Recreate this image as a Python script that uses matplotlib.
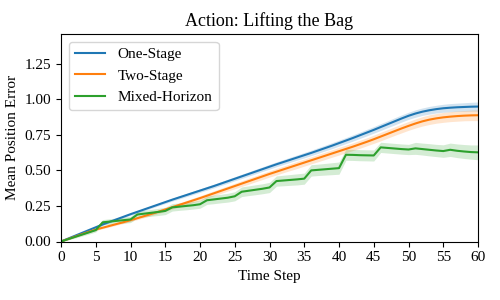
"""
plot.py — mean position error over time, one/two-stage vs mixed-horizon
"""

import numpy as np
import matplotlib
matplotlib.use("Agg")
import matplotlib.pyplot as plt

plt.rcParams["font.family"] = ["Liberation Serif", "DejaVu Serif"]

TITLE = "Action: Lifting the Bag"
steps = list(range(61))

one_stage = [
    0.000, 0.020, 0.040, 0.060, 0.080, 0.100, 0.120, 0.138, 0.156, 0.174,
    0.192, 0.209, 0.226, 0.243, 0.260, 0.277, 0.294, 0.310, 0.326, 0.342,
    0.358, 0.374, 0.390, 0.407, 0.424, 0.441, 0.458, 0.475, 0.492, 0.509,
    0.526, 0.543, 0.559, 0.575, 0.591, 0.607, 0.623, 0.640, 0.657, 0.674,
    0.692, 0.710, 0.728, 0.747, 0.766, 0.785, 0.805, 0.825, 0.845, 0.865,
    0.884, 0.900, 0.913, 0.923, 0.931, 0.937, 0.941, 0.944, 0.946, 0.948,
    0.949,
]
one_stage_std = [
    0.000, 0.003, 0.004, 0.004, 0.005, 0.005, 0.006, 0.006, 0.007, 0.007,
    0.008, 0.008, 0.009, 0.009, 0.009, 0.010, 0.010, 0.011, 0.011, 0.012,
    0.012, 0.013, 0.013, 0.013, 0.014, 0.014, 0.015, 0.015, 0.016, 0.016,
    0.017, 0.017, 0.017, 0.018, 0.018, 0.019, 0.019, 0.020, 0.020, 0.021,
    0.021, 0.021, 0.022, 0.022, 0.023, 0.023, 0.024, 0.024, 0.025, 0.025,
    0.025, 0.026, 0.026, 0.027, 0.027, 0.028, 0.029, 0.029, 0.030, 0.031,
    0.032,
]

two_stage = [
    0.000, 0.017, 0.034, 0.051, 0.068, 0.084, 0.097, 0.110, 0.123, 0.136,
    0.150, 0.164, 0.179, 0.194, 0.209, 0.225, 0.241, 0.257, 0.273, 0.289,
    0.305, 0.322, 0.339, 0.356, 0.373, 0.390, 0.407, 0.424, 0.441, 0.458,
    0.475, 0.491, 0.507, 0.523, 0.539, 0.555, 0.571, 0.587, 0.603, 0.619,
    0.635, 0.651, 0.667, 0.684, 0.701, 0.719, 0.738, 0.757, 0.776, 0.795,
    0.813, 0.830, 0.845, 0.857, 0.866, 0.873, 0.878, 0.882, 0.885, 0.887,
    0.888,
]
two_stage_std = [
    0.000, 0.003, 0.004, 0.005, 0.005, 0.006, 0.007, 0.008, 0.008, 0.009,
    0.009, 0.010, 0.011, 0.012, 0.012, 0.013, 0.013, 0.014, 0.015, 0.016,
    0.016, 0.017, 0.017, 0.018, 0.018, 0.019, 0.020, 0.021, 0.021, 0.022,
    0.022, 0.023, 0.023, 0.024, 0.025, 0.025, 0.025, 0.026, 0.026, 0.026,
    0.027, 0.027, 0.027, 0.028, 0.028, 0.029, 0.030, 0.030, 0.030, 0.031,
    0.031, 0.032, 0.033, 0.034, 0.034, 0.035, 0.035, 0.036, 0.036, 0.037,
    0.038,
]

mixed_horizon = [
    0.000, 0.016, 0.032, 0.048, 0.064, 0.080, 0.135, 0.140, 0.145, 0.150,
    0.155, 0.190, 0.196, 0.202, 0.208, 0.215, 0.240, 0.245, 0.250, 0.255,
    0.262, 0.290, 0.296, 0.302, 0.308, 0.318, 0.350, 0.357, 0.364, 0.371,
    0.380, 0.425, 0.429, 0.433, 0.437, 0.442, 0.500, 0.504, 0.508, 0.512,
    0.516, 0.610, 0.609, 0.607, 0.606, 0.605, 0.662, 0.658, 0.654, 0.650,
    0.647, 0.655, 0.650, 0.645, 0.640, 0.636, 0.645, 0.638, 0.633, 0.629,
    0.627,
]
mixed_horizon_std = [
    0.000, 0.005, 0.008, 0.010, 0.012, 0.013, 0.019, 0.020, 0.020, 0.021,
    0.022, 0.023, 0.023, 0.024, 0.025, 0.026, 0.026, 0.026, 0.027, 0.027,
    0.028, 0.029, 0.030, 0.030, 0.031, 0.032, 0.034, 0.034, 0.035, 0.035,
    0.036, 0.036, 0.037, 0.038, 0.039, 0.039, 0.040, 0.040, 0.041, 0.042,
    0.043, 0.039, 0.039, 0.039, 0.039, 0.039, 0.036, 0.036, 0.036, 0.036,
    0.036, 0.042, 0.042, 0.043, 0.043, 0.044, 0.047, 0.048, 0.049, 0.050,
    0.052,
]

series = [
    ("One-Stage", one_stage, one_stage_std, "#1f77b4"),
    ("Two-Stage", two_stage, two_stage_std, "#ff7f0e"),
    ("Mixed-Horizon", mixed_horizon, mixed_horizon_std, "#2ca02c"),
]

fig = plt.figure(figsize=(5, 3), dpi=100)
ax = fig.add_axes([0.122, 0.195, 0.834, 0.692])

for label, mean, std, color in series:
    mean = np.array(mean)
    std = np.array(std)
    ax.plot(steps, mean, color=color, lw=1.5, label=label)
    ax.fill_between(steps, mean - std, mean + std, color=color, alpha=0.2, lw=0)

ax.set_xlim(0, 60)
ax.set_ylim(0, 1.46)
ax.set_xticks(range(0, 61, 5))
ax.set_yticks([0, 0.25, 0.5, 0.75, 1.0, 1.25])
ax.set_yticklabels(["0.00", "0.25", "0.50", "0.75", "1.00", "1.25"])
ax.tick_params(labelsize=11)
ax.set_xlabel("Time Step", fontsize=11)
ax.set_ylabel("Mean Position Error", fontsize=11)
ax.set_title(TITLE, fontsize=13)
ax.legend(loc="upper left", fontsize=11)

fig.savefig("out.png", dpi=100)
